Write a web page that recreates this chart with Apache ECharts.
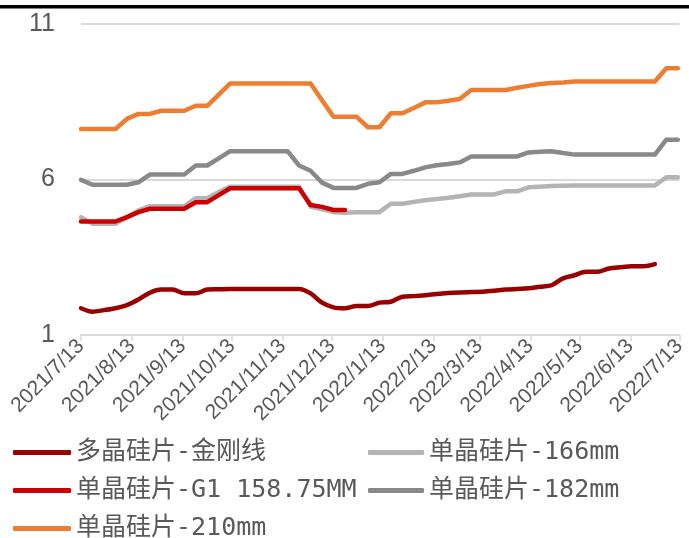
<!DOCTYPE html>
<html>
<head>
<meta charset="utf-8">
<script src="https://cdn.jsdelivr.net/npm/echarts@6/dist/echarts.min.js"></script>
<style>
html,body{margin:0;padding:0;background:#fff;}
#chart{width:689px;height:538px;}
</style>
</head>
<body>
<div id="chart"></div>
<script>
// Tick labels and their day offsets from 2021/7/13
const tickLabels = ["2021/7/13","2021/8/13","2021/9/13","2021/10/13","2021/11/13","2021/12/13","2022/1/13","2022/2/13","2022/3/13","2022/4/13","2022/5/13","2022/6/13","2022/7/13"];
const tickDays = [0,31,62,92,123,153,184,215,243,274,304,335,365];
// weekly observations (one per 7 days from 2021/7/13)
const seriesNames = ["多晶硅片-金刚线","单晶硅片-166mm","单晶硅片-G1 158.75MM","单晶硅片-182mm","单晶硅片-210mm"];
const multiDiamond = [1.86,1.75,1.80,1.86,1.96,2.14,2.36,2.46,2.46,2.34,2.34,2.46,2.47,
  2.48,2.48,2.48,2.48,2.48,2.48,2.48,
  2.34,2.04,1.89,1.86,1.93,1.93,2.04,2.07,2.23,2.25,
  2.28,2.32,2.35,2.37,2.38,2.39,2.42,2.46,2.48,2.50,
  2.55,2.60,2.82,2.92,3.03,3.03,3.14,3.18,3.21,3.21,
  3.28,null,null];
const mono166 = [4.79,4.58,4.58,4.58,4.78,5.01,5.14,5.14,5.14,5.14,5.40,5.40,5.60,
  5.77,5.77,5.77,5.77,5.77,5.77,5.77,
  5.13,5.04,4.95,4.93,4.95,4.95,4.95,5.22,5.22,5.28,
  5.33,5.37,5.41,5.46,5.52,5.52,5.52,5.62,5.62,5.75,
  5.77,5.79,5.80,5.81,5.81,5.81,5.81,5.81,5.81,5.81,
  5.81,6.07,6.07];
const monoG1 = [4.65,4.65,4.65,4.65,4.79,4.95,5.06,5.06,5.06,5.06,5.27,5.27,5.50,
  5.72,5.72,5.72,5.72,5.72,5.72,5.72,
  5.18,5.12,5.02,5.02,null,null,null,null,null,null,
  null,null,null,null,null,null,null,null,null,null,
  null,null,null,null,null,null,null,null,null,null,
  null,null,null];
const mono182 = [5.99,5.83,5.83,5.83,5.83,5.91,6.16,6.16,6.16,6.16,6.45,6.45,6.68,
  6.91,6.91,6.91,6.91,6.91,6.91,6.45,
  6.28,5.90,5.73,5.73,5.73,5.86,5.91,6.18,6.18,6.28,
  6.39,6.46,6.50,6.55,6.74,6.74,6.74,6.74,6.74,6.87,
  6.89,6.91,6.85,6.80,6.80,6.80,6.80,6.80,6.80,6.80,
  6.80,7.28,7.28];
const mono210 = [7.62,7.62,7.62,7.62,7.95,8.11,8.11,8.21,8.21,8.21,8.37,8.37,8.73,
  9.09,9.09,9.09,9.09,9.09,9.09,9.09,
  9.09,8.55,8.02,8.02,8.02,7.68,7.68,8.13,8.13,8.30,
  8.48,8.48,8.53,8.59,8.88,8.88,8.88,8.88,8.95,9.01,
  9.07,9.10,9.12,9.15,9.15,9.15,9.15,9.15,9.15,9.15,
  9.15,9.58,9.58];
const colors = ["#990000","#B4B4B4","#CC0000","#898989","#ED7D31"];

const allValues = [multiDiamond, mono166, monoG1, mono182, mono210];
function toPairs(arr){ return arr.map((v,i)=>[i*7, v]); }

const chart = echarts.init(document.getElementById('chart'));
const labelFont = "'Liberation Sans Narrow','Liberation Sans',Arial,sans-serif";
const legendFont = "'DejaVu Sans Mono','Noto Sans CJK SC',monospace";

const series = seriesNames.map((n,k)=>({
  name: n,
  type: 'line',
  data: toPairs(allValues[k]),
  showSymbol: false,
  symbol: 'none',
  smooth: k === 0 ? 0.3 : false,
  connectNulls: false,
  color: colors[k],
  lineStyle: {width: 4.5, color: colors[k], cap: 'round', join: 'round'},
  animation: false
}));

const legendCommon = {
  orient: 'vertical',
  icon: 'roundRect',
  padding: 0,
  itemHeight: 5,
  itemGap: 13,
  height: 110,
  textStyle: {color: '#595959', fontSize: 25, lineHeight: 25, fontFamily: legendFont}
};

chart.setOption({
  animation: false,
  backgroundColor: '#fff',
  grid: {left: 81, right: 5, top: 24, bottom: 203, containLabel: false},
  graphic: [{type: 'rect', left: 0, top: 5, shape: {width: 689, height: 3.5}, style: {fill: '#000'}}],
  legend: [
    Object.assign({}, legendCommon, {left: 13, top: 440, itemWidth: 58, data: [seriesNames[0], seriesNames[2], seriesNames[4]]}),
    Object.assign({}, legendCommon, {left: 368, top: 440, itemWidth: 56, data: [seriesNames[1], seriesNames[3]]})
  ],
  xAxis: {
    type: 'value',
    min: 0, max: 365,
    axisLine: {show: true, lineStyle: {color: '#D9D9D9', width: 2}},
    axisTick: {show: true, customValues: tickDays, length: 6, lineStyle: {color: '#D9D9D9', width: 1.5}},
    splitLine: {show: false},
    axisLabel: {
      customValues: tickDays,
      rotate: 45,
      margin: 8,
      color: '#595959',
      fontSize: 21,
      fontFamily: "'Liberation Sans',Arial,sans-serif",
      formatter: function(v){ const i = tickDays.indexOf(Math.round(v)); return i >= 0 ? tickLabels[i] : ''; }
    }
  },
  yAxis: {
    type: 'value',
    min: 1, max: 11, interval: 5,
    axisLine: {show: false},
    axisTick: {show: false},
    splitLine: {show: true, lineStyle: {color: '#D9D9D9', width: 2}},
    axisLabel: {color: '#595959', fontSize: 25, fontFamily: labelFont, margin: 26}
  },
  series: series
});
</script>
</body>
</html>
